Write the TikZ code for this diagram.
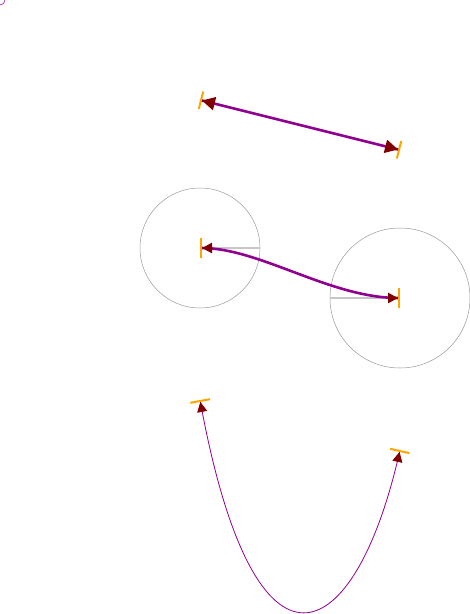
\documentclass[tikz,border=0pt]{standalone}
\usetikzlibrary{arrows.meta}
\definecolor{barorange}{RGB}{255,165,0}
\definecolor{tipred}{RGB}{128,0,0}
\definecolor{curvepurple}{RGB}{144,0,144}

\begin{document}
\begin{tikzpicture}[x=1pt,y=-1pt,
    bigtips/.style={arrows={Bar[color=barorange,width=18pt,line width=2pt]Triangle[color=tipred,length=13pt,width=13pt]-Triangle[color=tipred,length=13pt,width=13pt]Bar[color=barorange,width=18pt,line width=2pt]}},
    smalltips/.style={arrows={Bar[color=barorange,width=20pt,line width=2pt]Triangle[color=tipred,length=10pt,width=10pt]-Triangle[color=tipred,length=10pt,width=10pt]Bar[color=barorange,width=20pt,line width=2pt]}},
    curve/.style={curvepurple},
    guide/.style={gray!80,line width=0.5pt},
    handle/.style={gray!45,line width=1.5pt}]
  \useasboundingbox (0,0) rectangle (470,614);
  % points
  \coordinate (a1) at (200,100);
  \coordinate (a2) at (400,150);
  \coordinate (m1) at (200,248);
  \coordinate (m2) at (400,298);
  \coordinate (c1) at (260,248);
  \coordinate (c2) at (330,298);
  \coordinate (b1) at (200,400);
  \coordinate (b2) at (400,450);
  \coordinate (d1) at (255,700);
  \coordinate (d2) at (355,650);
  \draw[curve,line width=0.8pt,curvepurple!75] (0,5) arc[start angle=-90,end angle=0,radius=5pt];
  % straight
  \draw[curve,bigtips,line width=2.6pt] (a1) -- (a2);
  % curve with handles
  \draw[guide] (m1) circle (60);
  \draw[guide] (m2) circle (70);
  \draw[handle] (m1) -- (c1);
  \draw[handle] (m2) -- (c2);
  \draw[curve,smalltips,line width=2.6pt] (m1) .. controls (c1) and (c2) .. (m2);
  % loop
  \draw[curve,smalltips,line width=0.8pt] (b1) .. controls (d1) and (d2) .. (b2);
\end{tikzpicture}
\end{document}
